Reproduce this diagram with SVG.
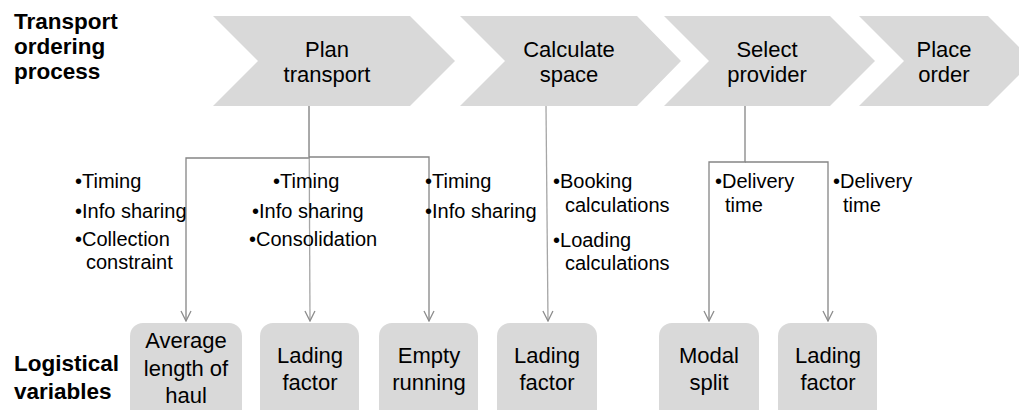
<svg xmlns="http://www.w3.org/2000/svg" width="1019" height="410" viewBox="0 0 1019 410">
<style>
text{font-family:"Liberation Sans",Arial,sans-serif;fill:#000}
.h{font-size:22.5px;font-weight:bold}
.s{font-size:22px;text-anchor:middle}
.b{font-size:20px}
.chev{fill:#d9d9d9}
.box{fill:#d9d9d9}
.c{fill:none;stroke:#858585;stroke-width:1.3}
.l{stroke:#a6a6a6}
</style>
<defs>
<marker id="ar" markerWidth="12" markerHeight="12" viewBox="0 0 12 12" refX="11" refY="6" orient="auto" markerUnits="userSpaceOnUse">
<path d="M1,1 L11,6 L1,11" fill="none" stroke="#8c8c8c" stroke-width="1.3"/>
</marker>
</defs>
<g id="titles">
<text class="h" x="14" y="29">Transport</text>
<text class="h" x="14" y="54">ordering</text>
<text class="h" x="14" y="79">process</text>
<text class="h" x="14" y="371">Logistical</text>
<text class="h" x="14" y="399">variables</text>
</g>
<g id="step1"><polygon class="chev" points="213,16 410,16 455,61 410,106 213,106 258,61"/><text class="s" x="327" y="57">Plan</text><text class="s" x="327" y="82">transport</text></g>
<g id="step2"><polygon class="chev" points="460,16 637,16 681,61 637,106 460,106 505,61"/><text class="s" x="569" y="57">Calculate</text><text class="s" x="569" y="82">space</text></g>
<g id="step3"><polygon class="chev" points="664,16 830,16 875,61 830,106 664,106 709,61"/><text class="s" x="767" y="57">Select</text><text class="s" x="767" y="82">provider</text></g>
<g id="step4"><polygon class="chev" points="859,16 988,16 1033,61 988,106 859,106 904,61"/><text class="s" x="944" y="57">Place</text><text class="s" x="944" y="82">order</text></g>
<g id="connectors">
<polyline class="c" points="309,106 309,158 186,158 186,321" marker-end="url(#ar)"/>
<polyline class="c l" points="309,106 310,321" marker-end="url(#ar)"/>
<polyline class="c" points="309,157 429,157 429,321" marker-end="url(#ar)"/>
<polyline class="c l" points="546,106 548,321" marker-end="url(#ar)"/>
<polyline class="c" points="745,106 745,162 709,162 709,321" marker-end="url(#ar)"/>
<polyline class="c" points="745,162 828,162 828,321" marker-end="url(#ar)"/>
</g>
<g id="labels">
<text class="b" x="75" y="188">•Timing</text>
<text class="b" x="75" y="218">•Info sharing</text>
<text class="b" x="75" y="246">•Collection</text>
<text class="b" x="86" y="269">constraint</text>
<text class="b" x="273" y="188">•Timing</text>
<text class="b" x="252" y="218">•Info sharing</text>
<text class="b" x="249" y="246">•Consolidation</text>
<text class="b" x="425" y="188">•Timing</text>
<text class="b" x="425" y="218">•Info sharing</text>
<text class="b" x="553" y="188">•Booking</text>
<text class="b" x="565" y="212">calculations</text>
<text class="b" x="553" y="247">•Loading</text>
<text class="b" x="565" y="270">calculations</text>
<text class="b" x="715" y="188">•Delivery</text>
<text class="b" x="725" y="212">time</text>
<text class="b" x="833" y="188">•Delivery</text>
<text class="b" x="843" y="212">time</text>
</g>
<g id="var1"><rect class="box" x="130" y="323" width="112" height="100" rx="13"/><text class="s" x="186" y="348">Average</text><text class="s" x="186" y="376">length of</text><text class="s" x="186" y="403">haul</text></g>
<g id="var2"><rect class="box" x="260" y="323" width="99" height="100" rx="13"/><text class="s" x="310" y="363">Lading</text><text class="s" x="310" y="390">factor</text></g>
<g id="var3"><rect class="box" x="379" y="323" width="99" height="100" rx="13"/><text class="s" x="429" y="363">Empty</text><text class="s" x="429" y="390">running</text></g>
<g id="var4"><rect class="box" x="497" y="323" width="100" height="100" rx="13"/><text class="s" x="547" y="363">Lading</text><text class="s" x="547" y="390">factor</text></g>
<g id="var5"><rect class="box" x="659" y="323" width="100" height="100" rx="13"/><text class="s" x="709" y="363">Modal</text><text class="s" x="709" y="390">split</text></g>
<g id="var6"><rect class="box" x="778" y="323" width="99" height="100" rx="13"/><text class="s" x="828" y="363">Lading</text><text class="s" x="828" y="390">factor</text></g>
</svg>
